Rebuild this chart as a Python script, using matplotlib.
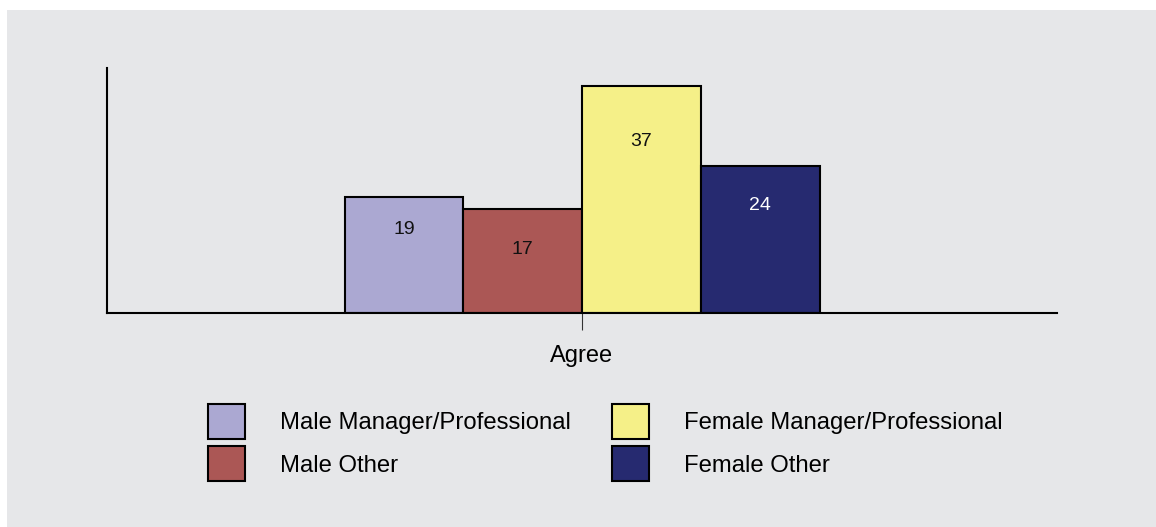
import matplotlib
matplotlib.use("Agg")
import matplotlib.pyplot as plt
from matplotlib.patches import Rectangle, Patch

plt.rcParams['font.family'] = ['Liberation Sans', 'DejaVu Sans']

categories = ["Agree"]
series_names = ["Male Manager/Professional", "Male Other",
                "Female Manager/Professional", "Female Other"]
values = [19, 17, 37, 24]

colors = ["#aba8d2", "#ab5755", "#f5f088", "#262a70"]
text_colors = ["#111111", "#111111", "#111111", "#ffffff"]
label_offsets_px = [33, 41, 55, 40]

W, H = 1156, 527
fig = plt.figure(figsize=(W / 100, H / 100), dpi=100)
fig.patch.set_facecolor("white")
bg = "#e6e7e9"
fig.add_artist(Rectangle((7 / W, 0), 1 - 7 / W, 1 - 10 / H,
                         transform=fig.transFigure, facecolor=bg,
                         edgecolor="none", zorder=-10))

ax = fig.add_axes([107 / W, 1 - 313 / H, 950 / W, 245 / H])
ax.set_facecolor("none")

bar_w = 0.125
n = len(series_names)
for i, (name, v, c) in enumerate(zip(series_names, values, colors)):
    off = (i - (n - 1) / 2) * bar_w
    ax.bar(0 + off, v, width=bar_w, color=c, edgecolor="black",
           linewidth=1.5, label=name, zorder=2)
    ax.annotate(str(v), xy=(0 + off, v), xytext=(0, -label_offsets_px[i] * 0.72),
                textcoords="offset points", ha="center", va="center",
                fontsize=14, color=text_colors[i])

ax.set_xlim(-0.5, 0.5)
ax.set_ylim(0, 40)
ax.set_xticks([0])
ax.set_xticklabels(categories, fontsize=17)
ax.tick_params(axis="x", length=12, width=0.8, color="#333333", pad=11)
ax.set_yticks([])
for s in ["top", "right"]:
    ax.spines[s].set_visible(False)
for s in ["left", "bottom"]:
    ax.spines[s].set_linewidth(1.5)
    ax.spines[s].set_color("black")

handles = [Patch(facecolor=c, edgecolor="black", linewidth=1.5) for c in colors]
fs = 17.2
fig.legend(handles, series_names, ncol=2, loc="upper left",
           bbox_to_anchor=(208 / W, 1 - 404 / H), bbox_transform=fig.transFigure,
           frameon=False, fontsize=fs, borderpad=0, borderaxespad=0,
           handlelength=1.55, handleheight=1.875, handletextpad=1.46,
           columnspacing=1.72, labelspacing=0.31)

fig.savefig("out.png", dpi=100, facecolor=fig.get_facecolor())
